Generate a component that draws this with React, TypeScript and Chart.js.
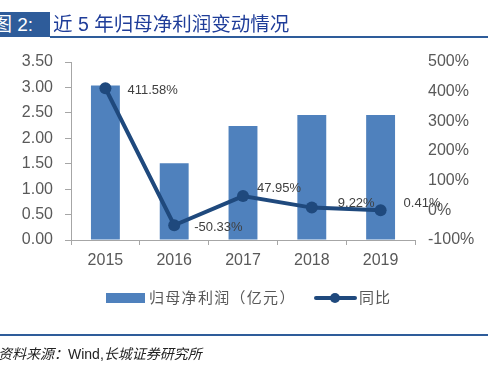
import React, { useEffect, useRef } from "react";
import { Chart, registerables } from "chart.js";

Chart.register(...registerables);

const categories = ["2015", "2016", "2017", "2018", "2019"];
const profit = [3.04, 1.51, 2.24, 2.46, 2.46];
const yoy = [411.58, -50.33, 47.95, 9.22, 0.41];
const yoyLabels = ["411.58%", "-50.33%", "47.95%", "9.22%", "0.41%"];

const BAR = "#4F81BD";
const LINE = "#1F497D";
const GREY = "#595959";
const AXIS = "#A6A6A6";
const NUM_FONT = "'Liberation Sans', Arial, sans-serif";
const CJK_FONT = "'Liberation Sans', 'Noto Sans CJK SC', sans-serif";

const labelOffsets = [
  [22, 2],
  [20, 2],
  [14, -8],
  [26, -4],
  [23, -7],
];

const dataLabelPlugin = {
  id: "dataLabels",
  afterDatasetsDraw(chart: any) {
    const meta = chart.getDatasetMeta(1);
    const ctx = chart.ctx;
    ctx.save();
    ctx.font = `13px ${NUM_FONT}`;
    ctx.fillStyle = "#404040";
    ctx.textAlign = "left";
    ctx.textBaseline = "middle";
    meta.data.forEach((pt: any, i: number) => {
      const [dx, dy] = labelOffsets[i];
      ctx.fillText(yoyLabels[i], pt.x + dx, pt.y + dy);
    });
    ctx.restore();
  },
};

export default function App() {
  const ref = useRef<HTMLCanvasElement>(null);
  useEffect(() => {
    const chart = new Chart(ref.current!, {
      type: "bar",
      data: {
        labels: categories,
        datasets: [
          {
            type: "bar",
            label: "归母净利润（亿元）",
            data: profit,
            backgroundColor: BAR,
            barPercentage: 0.84,
            categoryPercentage: 0.5,
            yAxisID: "y",
            order: 2,
          },
          {
            type: "line",
            label: "同比",
            data: yoy,
            borderColor: LINE,
            backgroundColor: LINE,
            borderWidth: 4,
            pointRadius: 6,
            pointHoverRadius: 6,
            pointBackgroundColor: LINE,
            pointBorderWidth: 0,
            yAxisID: "y1",
            order: 1,
          } as any,
        ],
      },
      options: {
        animation: false,
        responsive: false,
        maintainAspectRatio: false,
        layout: { padding: { top: 62, left: 0, right: 0, bottom: 0 } },
        plugins: { legend: { display: false }, tooltip: { enabled: false } },
        scales: {
          x: {
            grid: { display: true, drawOnChartArea: false, drawTicks: true, tickLength: 5, color: AXIS, offset: true },
            border: { display: true, color: AXIS, width: 1 },
            ticks: { color: GREY, font: { size: 16, family: NUM_FONT }, padding: 6 },
            afterFit: (s: any) => { s.height = 126; },
          },
          y: {
            position: "left",
            min: 0,
            max: 3.5,
            grid: { display: true, drawOnChartArea: false, drawTicks: true, tickLength: 6, color: AXIS },
            border: { display: true, color: AXIS, width: 1 },
            ticks: {
              stepSize: 0.5,
              color: GREY,
              font: { size: 16, family: NUM_FONT },
              padding: 12,
              callback: (v: any) => Number(v).toFixed(2),
            },
            afterFit: (s: any) => { s.width = 71; },
          },
          y1: {
            position: "right",
            min: -100,
            max: 500,
            grid: { display: false, drawTicks: false },
            border: { display: false },
            ticks: {
              stepSize: 100,
              color: GREY,
              font: { size: 16, family: NUM_FONT },
              padding: 13,
              callback: (v: any) => `${v}%`,
            },
            afterFit: (s: any) => { s.width = 73; },
          },
        },
      },
      plugins: [dataLabelPlugin],
    });
    return () => chart.destroy();
  }, []);

  return (
    <div style={{ position: "absolute", left: 0, top: 0, width: 488, height: 366, background: "#fff", overflow: "hidden" }}>
      <canvas ref={ref} width={488} height={366} style={{ position: "absolute", left: 0, top: 0 }} />
      <div
        style={{
          position: "absolute", left: 0, top: 12, width: 50, height: 25, background: "#2E5C9A",
          color: "#fff", fontFamily: CJK_FONT, fontSize: 19, lineHeight: "25px", whiteSpace: "nowrap", overflow: "hidden",
        }}
      >
        <span style={{ marginLeft: -7 }}>图 2:</span>
      </div>
      <div
        style={{
          position: "absolute", left: 53, top: 12, height: 25, color: "#1F3D99",
          fontFamily: CJK_FONT, fontSize: 19.5, lineHeight: "25px", whiteSpace: "nowrap",
        }}
      >
        近 5 年归母净利润变动情况
      </div>
      <div style={{ position: "absolute", left: 50, top: 36, width: 438, height: 2, background: "#2E5C9A" }} />
      <div style={{ position: "absolute", left: 0, top: 334, width: 488, height: 2, background: "#2E5C9A" }} />
      <div
        style={{
          position: "absolute", left: -2, top: 343, color: "#222", fontFamily: CJK_FONT, fontSize: 14,
          whiteSpace: "nowrap",
        }}
      >
        <i>资料来源：</i>Wind,<i>长城证券研究所</i>
      </div>
      <div style={{ position: "absolute", left: 106, top: 293, width: 39, height: 10, background: BAR }} />
      <div
        style={{
          position: "absolute", left: 149, top: 288, color: GREY, fontFamily: CJK_FONT, fontSize: 15,
          lineHeight: "20px", whiteSpace: "nowrap", letterSpacing: 1.3,
        }}
      >
        归母净利润（亿元）
      </div>
      <div style={{ position: "absolute", left: 314, top: 296, width: 43, height: 4, borderRadius: 2, background: LINE }} />
      <div style={{ position: "absolute", left: 330, top: 293, width: 10, height: 10, borderRadius: 5, background: LINE }} />
      <div
        style={{
          position: "absolute", left: 359, top: 288, color: GREY, fontFamily: CJK_FONT, fontSize: 15,
          lineHeight: "20px", whiteSpace: "nowrap", letterSpacing: 1,
        }}
      >
        同比
      </div>
    </div>
  );
}
